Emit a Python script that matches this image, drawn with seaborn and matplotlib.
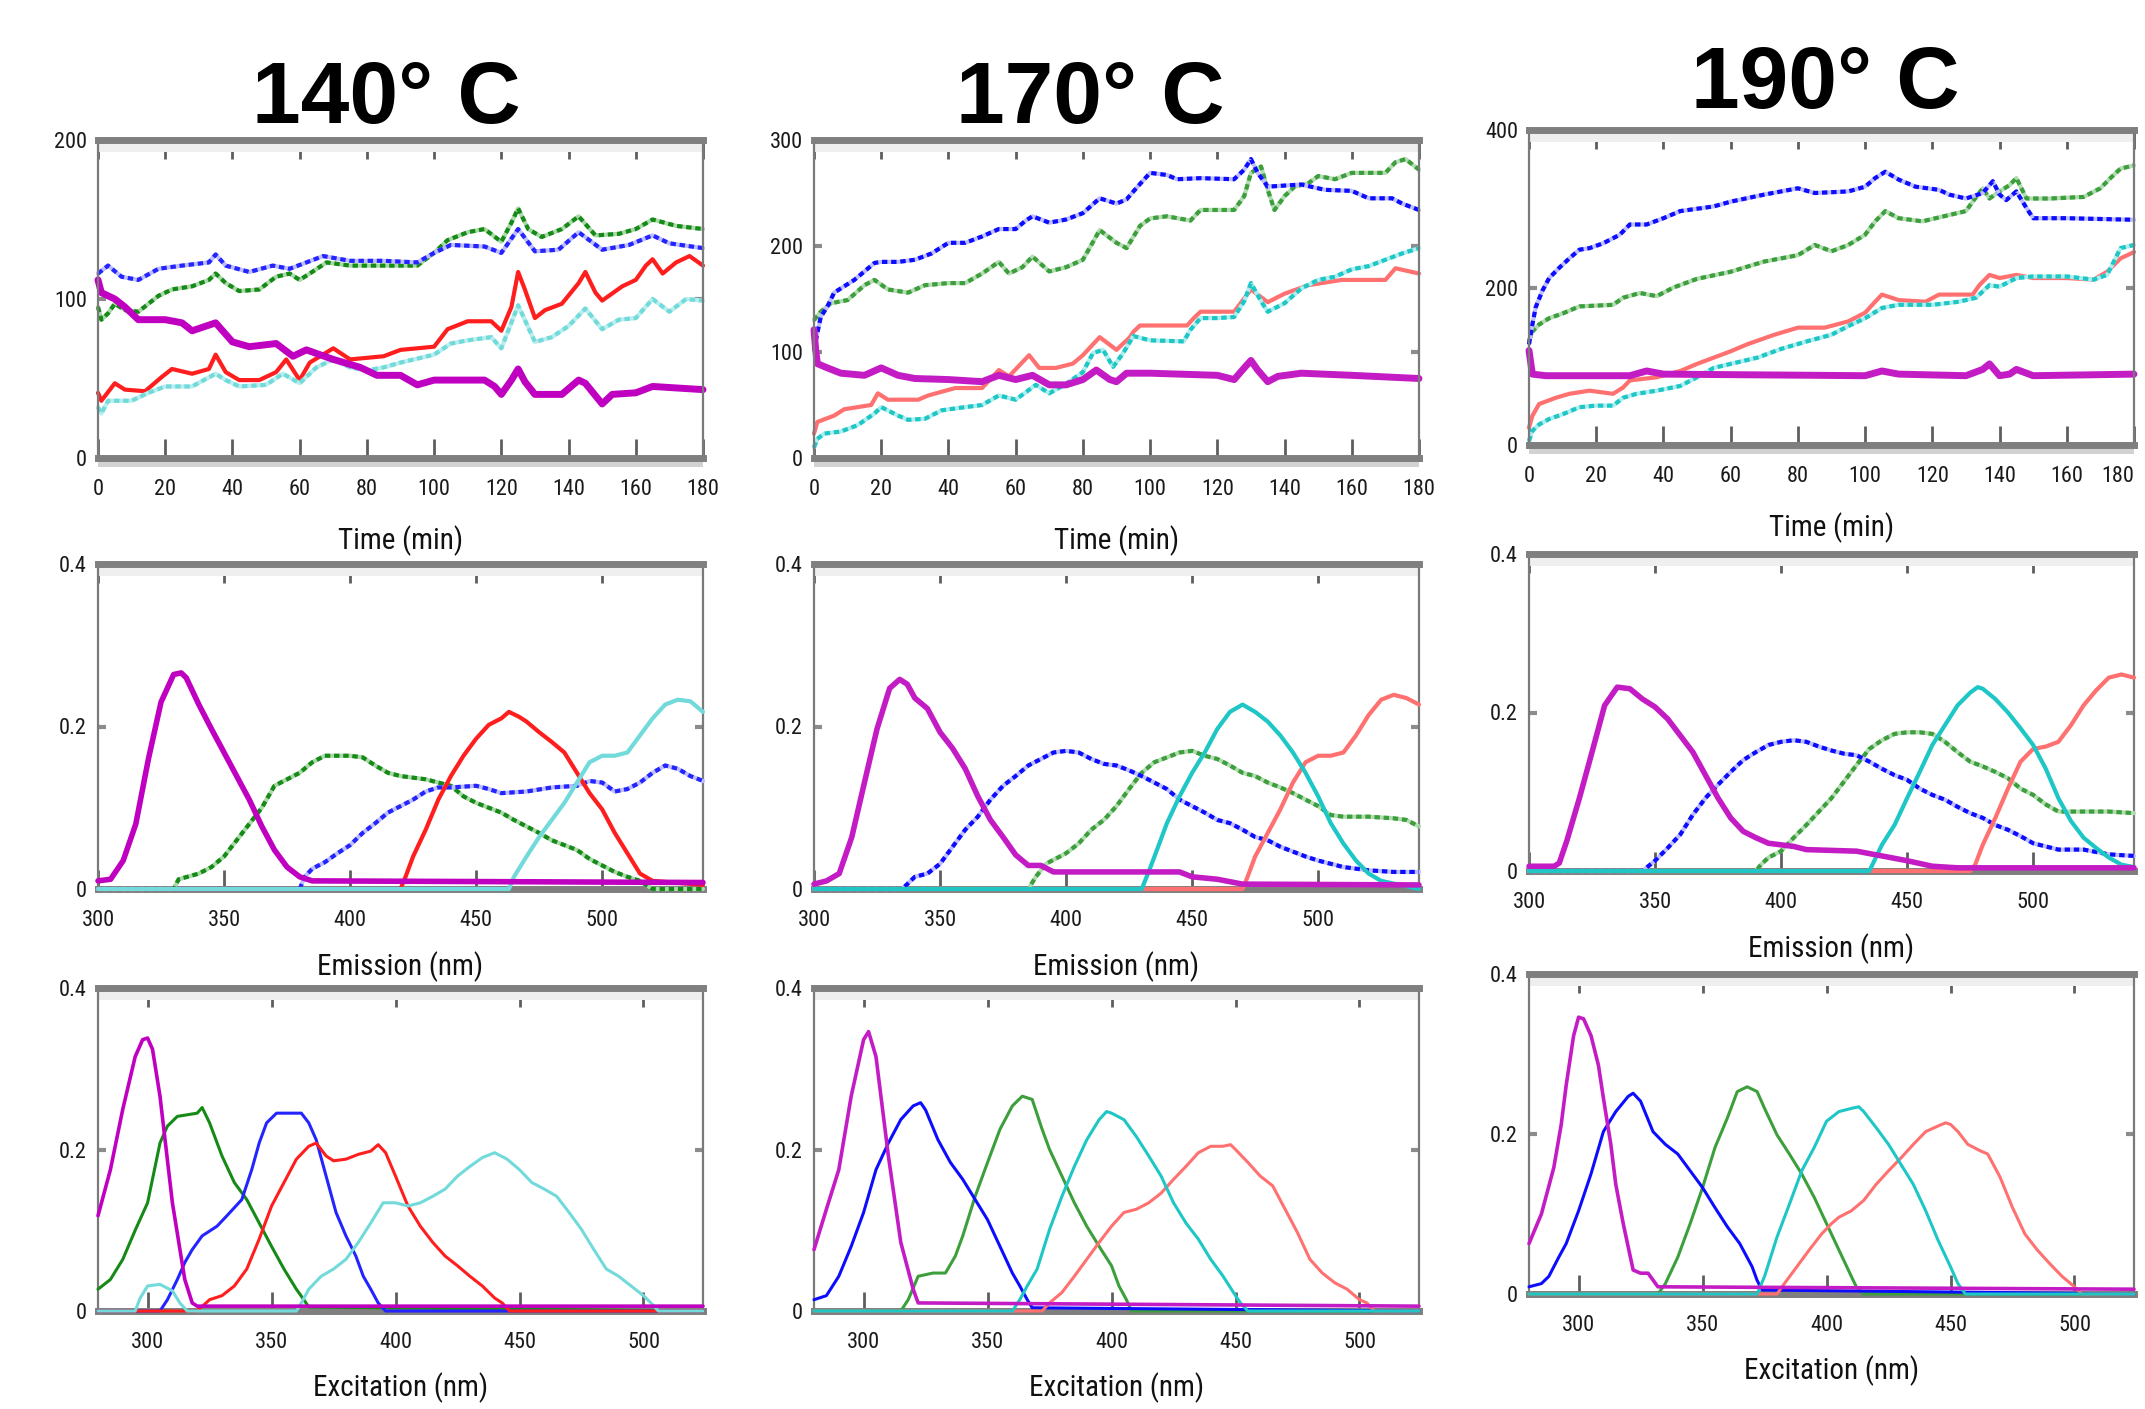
import matplotlib
matplotlib.use("Agg")
import matplotlib.pyplot as plt
import seaborn as sns
from matplotlib import font_manager as fm
from matplotlib.patches import Rectangle

# ---------------- time traces (top row) ----------------
t140_green = [0,1,3,5,8,12,18,22,28,33,35,38,42,48,53,57,60,63,68,75,85,95,100,104,110,115,120,123,125,128,132,138,143,148,155,160,165,172,180]
y140_green = [95,87,91,97,93,92,102,106,108,112,116,110,105,106,114,116,112,116,123,121,121,121,129,137,142,144,136,148,157,144,139,144,152,140,141,144,150,146,144]
t140_blue = [0,3,7,12,18,25,33,35,38,45,52,57,62,67,75,85,95,100,105,115,120,125,130,137,143,150,158,165,170,180]
y140_blue = [116,121,114,112,119,121,123,128,121,117,121,119,123,127,124,124,123,129,134,133,129,144,130,131,142,131,134,140,135,132]
t140_red = [0,1,5,8,14,19,22,28,33,35,38,42,48,53,56,60,63,70,75,85,90,95,100,104,110,117,120,123,125,127,130,133,138,143,145,148,150,156,160,163,165,168,172,176,180]
y140_red = [41,36,47,43,42,51,56,53,56,65,54,49,49,54,62,49,60,69,62,64,68,69,70,81,86,86,80,95,117,106,88,93,97,110,117,104,99,108,112,121,125,116,123,127,121]
t140_cyan = [0,1,3,10,15,20,28,35,38,42,50,55,60,65,70,75,80,85,90,100,105,110,117,120,125,130,135,140,145,150,155,160,165,170,175,180]
y140_cyan = [32,28,36,36,41,45,45,53,49,45,46,53,47,57,62,57,55,57,60,65,72,74,76,69,96,73,76,83,94,81,87,88,100,92,100,99]
t140_mag = [0,1,5,8,12,20,25,28,35,40,45,53,58,62,70,78,83,90,95,100,115,118,120,123,125,127,130,138,143,145,150,153,160,165,180]
y140_mag = [112,104,100,95,87,87,85,80,85,73,70,72,64,68,62,57,52,52,46,49,49,45,40,49,56,48,40,40,49,47,34,40,41,45,43]

t170_blue = [0,1,2,4,6,9,12,15,18,20,25,30,35,40,45,50,55,60,63,65,70,75,80,85,90,93,96,100,105,108,115,125,128,130,132,135,145,152,160,165,172,175,180]
y170_blue = [102,118,133,143,156,162,168,176,184,185,185,187,193,203,203,209,216,216,224,228,222,225,231,245,240,244,255,269,267,263,264,263,272,282,269,256,258,253,252,245,245,240,234]
t170_green = [0,2,5,10,15,18,22,28,33,40,45,50,55,58,62,65,70,75,80,85,90,93,97,100,105,112,115,125,128,130,133,135,137,140,143,147,150,155,160,170,173,176,180]
y170_green = [130,138,146,149,163,168,159,156,163,165,165,174,185,174,180,190,176,180,187,215,203,198,219,226,228,224,234,234,247,269,275,253,234,247,256,259,266,263,269,269,279,282,272]
t170_red = [0,1,6,9,17,19,22,31,34,42,50,55,58,64,67,72,77,80,85,90,94,95,97,111,113,115,125,130,135,140,147,157,170,173,180]
y170_red = [23,34,40,46,50,61,55,55,59,66,66,83,77,97,85,85,89,97,114,102,114,119,125,125,132,138,138,159,147,155,163,168,168,179,174]
t170_cyan = [0,1,3,8,13,18,20,25,28,33,38,45,50,55,60,63,66,70,75,80,83,86,89,92,95,100,110,112,115,120,125,128,130,133,135,140,145,150,155,160,165,170,175,180]
y170_cyan = [10,18,23,25,31,42,48,40,36,37,45,48,50,59,55,62,69,61,70,81,99,102,86,99,115,111,110,121,132,132,133,148,165,148,138,146,160,168,171,178,181,187,193,198]
t170_mag = [0,0.5,1,4,8,15,20,25,30,40,50,55,60,65,70,75,80,84,88,90,93,100,120,125,128,130,132,135,138,145,160,180]
y170_mag = [121,102,89,85,80,78,85,78,75,74,72,78,74,78,69,69,74,83,74,72,80,80,78,74,85,92,83,72,77,80,78,75]

t190_blue = [0,1,2,4,6,9,12,15,18,22,27,30,35,40,45,55,60,70,80,85,95,100,103,106,110,115,122,125,130,135,138,140,142,145,148,150,160,180]
y190_blue = [128,153,175,196,212,225,237,248,250,256,267,280,280,288,297,303,309,318,326,320,322,328,339,347,337,328,324,318,313,320,335,318,311,322,301,288,288,286]
t190_green = [0,1,3,6,10,15,25,28,33,38,43,50,60,70,80,85,90,95,100,103,106,110,117,125,130,132,135,137,140,143,145,148,155,165,170,173,176,180]
y190_green = [132,144,153,161,167,176,178,187,193,189,200,211,220,233,241,254,246,254,267,284,297,288,284,292,297,309,326,313,322,330,339,313,313,315,326,339,351,355]
t190_red = [0,1,3,8,12,18,25,28,30,38,45,50,55,60,65,73,80,88,95,100,103,105,110,118,122,132,134,137,140,145,150,160,168,172,176,180]
y190_red = [22,37,52,60,65,69,65,73,82,86,94,103,111,119,128,140,149,149,157,168,182,191,184,182,191,191,203,216,212,216,212,212,210,220,237,245]
t190_cyan = [0,1,3,6,10,15,20,25,28,32,38,45,50,55,60,68,75,83,90,95,100,105,110,120,128,133,137,140,145,150,160,168,172,176,180]
y190_cyan = [5,18,26,33,39,48,50,50,60,65,69,75,86,98,103,111,122,132,140,151,161,174,178,178,182,187,203,201,212,214,214,210,216,250,254]
t190_mag = [0,1,5,30,35,40,100,105,110,130,135,137,140,143,145,150,180]
y190_mag = [120,90,88,88,94,90,88,94,90,88,96,103,88,90,96,88,90]

# ---------------- emission loadings (middle row) ----------------
em140_mag_x = [300,305,310,315,320,325,330,333,335,340,345,350,355,360,365,370,375,380,385,540]
em140_mag_y = [0.01,0.012,0.035,0.08,0.16,0.23,0.264,0.266,0.26,0.227,0.197,0.168,0.139,0.11,0.077,0.048,0.027,0.015,0.01,0.008]
em140_green_x = [300,330,332,340,345] + list(range(350, 525, 5)) + [540]
em140_green_y = [0,0,0.012,0.019,0.027,0.04,0.06,0.08,0.10,0.127,0.135,0.143,0.156,0.164,0.164,0.164,0.162,0.152,0.143,0.139,0.137,0.135,0.131,0.127,0.114,0.106,0.10,0.094,0.085,0.077,0.069,0.06,0.054,0.048,0.037,0.029,0.021,0.015,0.01,0,0]
em140_blue_x = [300,380,382] + list(range(385, 445, 5)) + [450,455,460,470,480,490,495,500,505,510,515,520,525,530,535,540]
em140_blue_y = [0,0,0.015,0.025,0.033,0.044,0.054,0.069,0.081,0.094,0.102,0.11,0.12,0.125,0.125,0.127,0.123,0.118,0.12,0.125,0.127,0.133,0.131,0.12,0.123,0.131,0.143,0.152,0.148,0.139,0.133]
em140_red_x = [300,420,422,425,430,435,440,445,450,455,460,463,467,470,475,480,485,490,495,500,505,510,515,520,540]
em140_red_y = [0,0,0.015,0.04,0.073,0.11,0.139,0.164,0.185,0.202,0.21,0.218,0.212,0.206,0.193,0.181,0.168,0.143,0.118,0.098,0.069,0.044,0.019,0.01,0.005]
em140_cyan_x = [300,463] + list(range(465, 545, 5))
em140_cyan_y = [0,0,0.015,0.04,0.064,0.085,0.106,0.131,0.156,0.164,0.164,0.168,0.189,0.21,0.227,0.233,0.231,0.218]

em170_mag_x = [300,305,310,315,320,325,330,334,337,340,345,350,355,360,365,370,375,380,385,390,395,445,450,460,470,540]
em170_mag_y = [0.006,0.01,0.019,0.064,0.131,0.197,0.247,0.258,0.252,0.235,0.222,0.193,0.173,0.148,0.114,0.085,0.064,0.042,0.029,0.029,0.021,0.021,0.015,0.012,0.006,0.005]
em170_blue_x = [300,335] + list(range(340, 515, 5)) + [520,530,540]
em170_blue_y = [0,0,0.015,0.019,0.031,0.052,0.073,0.089,0.11,0.127,0.139,0.152,0.16,0.168,0.17,0.168,0.16,0.154,0.152,0.146,0.139,0.131,0.123,0.11,0.102,0.094,0.085,0.081,0.073,0.064,0.06,0.052,0.046,0.04,0.035,0.031,0.027,0.023,0.021,0.021]
em170_green_x = [300,385,388,392] + list(range(400, 515, 5)) + [520,530,535,540]
em170_green_y = [0,0,0.015,0.031,0.044,0.056,0.073,0.085,0.102,0.123,0.143,0.156,0.162,0.168,0.17,0.164,0.16,0.152,0.143,0.139,0.131,0.125,0.118,0.11,0.102,0.091,0.089,0.089,0.087,0.085,0.077]
em170_cyan_x = [300,430,433,437] + list(range(440, 530, 5)) + [540]
em170_cyan_y = [0,0,0.023,0.056,0.081,0.114,0.143,0.168,0.197,0.218,0.227,0.218,0.206,0.189,0.168,0.143,0.114,0.081,0.056,0.035,0.019,0.01,0]
em170_red_x = [300,470,472] + list(range(475, 545, 5))
em170_red_y = [0,0,0.015,0.04,0.069,0.098,0.131,0.156,0.164,0.164,0.168,0.189,0.214,0.233,0.239,0.235,0.227]

em190_mag_x = [300,310,312] + list(range(315, 415, 5)) + [420,430,440,450,460,470,540]
em190_mag_y = [0.006,0.006,0.01,0.038,0.092,0.15,0.209,0.232,0.23,0.217,0.207,0.192,0.171,0.15,0.121,0.092,0.067,0.05,0.042,0.035,0.033,0.031,0.027,0.026,0.025,0.019,0.013,0.006,0.004,0.004]
em190_blue_x = [300,345] + list(range(350, 515, 5)) + [520,530,540]
em190_blue_y = [0,0,0.013,0.029,0.046,0.071,0.092,0.109,0.125,0.14,0.15,0.159,0.163,0.165,0.163,0.157,0.152,0.148,0.146,0.138,0.129,0.121,0.115,0.104,0.096,0.09,0.081,0.073,0.067,0.058,0.052,0.044,0.035,0.031,0.027,0.027,0.021,0.019]
em190_green_x = [300,390,392,395] + list(range(400, 515, 5)) + [520,530,540]
em190_green_y = [0,0,0.008,0.017,0.025,0.042,0.058,0.075,0.092,0.113,0.134,0.154,0.165,0.173,0.175,0.175,0.173,0.163,0.15,0.138,0.132,0.125,0.117,0.104,0.096,0.084,0.075,0.075,0.075,0.073]
em190_cyan_x = [300,435,437,440,445,450,455,460,465,470,475,478,480,485,490,495,500,505,510,515,520,525,530,535,540]
em190_cyan_y = [0,0,0.013,0.033,0.058,0.092,0.125,0.159,0.184,0.209,0.225,0.232,0.23,0.217,0.2,0.18,0.159,0.129,0.092,0.063,0.042,0.029,0.017,0.008,0.005]
em190_red_x = [300,475,477] + list(range(480, 545, 5))
em190_red_y = [0,0,0.008,0.033,0.067,0.104,0.138,0.154,0.157,0.163,0.184,0.209,0.228,0.244,0.248,0.244]

# ---------------- excitation loadings (bottom row) ----------------
ex140_mag_x = [280,285,290,295,298,300,302,305,310,315,318,320,524]
ex140_mag_y = [0.118,0.175,0.25,0.315,0.336,0.338,0.324,0.266,0.134,0.039,0.01,0.006,0.006]
ex140_green_x = [280,285,290,295,300,305,308,312,316,320,322,325,330,335,340,345,350,355,360,363,365,524]
ex140_green_y = [0.027,0.039,0.064,0.10,0.134,0.208,0.229,0.241,0.243,0.245,0.252,0.233,0.192,0.159,0.138,0.109,0.08,0.052,0.027,0.014,0.005,0]
ex140_blue_x = [280,305,308,312,315,318,322,328,332,338,342,345,348,352,358,362,365,368,372,376,380,384,387,390,393,396,524]
ex140_blue_y = [0,0,0.014,0.039,0.06,0.076,0.093,0.105,0.118,0.138,0.175,0.208,0.233,0.245,0.245,0.245,0.233,0.212,0.167,0.122,0.093,0.068,0.043,0.027,0.01,0,0]
ex140_red_x = [280,320,325,330,335,340,345,350,355,360,365,368,372,375,380,385,390,393,396,400,405,410,415,420,425,430,435,440,443,446,524]
ex140_red_y = [0,0,0.014,0.019,0.031,0.052,0.089,0.13,0.159,0.188,0.204,0.208,0.192,0.186,0.188,0.194,0.198,0.206,0.196,0.167,0.13,0.105,0.085,0.068,0.056,0.043,0.031,0.016,0.01,0,0]
ex140_cyan_x = [280,295,297,300,305,310,313,316,360,362] + list(range(365, 505, 5)) + [503,506,524]
ex140_cyan_y = [0,0,0.016,0.031,0.033,0.025,0.01,0,0,0.01,0.027,0.043,0.052,0.064,0.085,0.109,0.134,0.134,0.13,0.134,0.142,0.151,0.167,0.179,0.19,0.196,0.188,0.175,0.159,0.151,0.142,0.122,0.101,0.076,0.052,0.043,0.031,0.019,0.01,0,0]

ex170_mag_x = [280,285,290,295,300,302,305,310,315,320,322,524]
ex170_mag_y = [0.076,0.126,0.175,0.266,0.336,0.346,0.315,0.192,0.085,0.027,0.01,0.006]
ex170_blue_x = [280,285,290,295,300,305,310,315,320,323,325,330,335,340,345,350,355,360,363,366,368,524]
ex170_blue_y = [0.014,0.019,0.043,0.08,0.122,0.175,0.208,0.237,0.254,0.258,0.249,0.212,0.184,0.163,0.138,0.113,0.08,0.047,0.031,0.014,0.004,0]
ex170_green_x = [280,315,318,322,328,333,337,340,345,350,355,360,364,368,372,375,380,385,390,395,400,403,406,408,524]
ex170_green_y = [0,0,0.014,0.043,0.047,0.047,0.068,0.093,0.142,0.184,0.225,0.254,0.266,0.262,0.225,0.2,0.167,0.134,0.105,0.08,0.056,0.031,0.014,0,0]
ex170_cyan_x = [280,360,363,366,370,375,380,385,390,395,398,400,405,410,415,420,425,430,435,440,445,450,452,455,524]
ex170_cyan_y = [0,0,0.014,0.031,0.052,0.101,0.142,0.179,0.212,0.237,0.247,0.245,0.237,0.216,0.192,0.167,0.134,0.109,0.089,0.064,0.043,0.019,0.01,0,0]
ex170_red_x = [280,372,375] + list(range(380, 450, 5)) + [448] + list(range(450, 505, 5)) + [503,506,524]
ex170_red_y = [0,0,0.01,0.023,0.043,0.064,0.085,0.105,0.122,0.126,0.134,0.146,0.163,0.179,0.196,0.204,0.204,0.206,0.2,0.184,0.167,0.155,0.126,0.097,0.064,0.047,0.035,0.027,0.014,0.01,0,0]

ex190_mag_x = [280,285,290,293,295,298,300,302,305,308,310,313,315,318,320,322,325,328,332,524]
ex190_mag_y = [0.063,0.1,0.158,0.212,0.261,0.323,0.346,0.344,0.323,0.286,0.245,0.187,0.137,0.088,0.059,0.03,0.026,0.026,0.009,0.006]
ex190_blue_x = [280,285,288,292,295,300,305,310,315,320,322,325,330,335,340,345,350,355,360,365,370,372,374,524]
ex190_blue_y = [0.009,0.013,0.022,0.046,0.063,0.104,0.15,0.203,0.228,0.247,0.251,0.241,0.203,0.187,0.175,0.154,0.133,0.108,0.084,0.063,0.034,0.017,0.005,0]
ex190_green_x = [280,332,335,340,345,350,355,360,364,368,372,375,380,385,390,395,400,405,410,412,415,524]
ex190_green_y = [0,0,0.013,0.046,0.088,0.133,0.183,0.22,0.253,0.259,0.253,0.232,0.199,0.175,0.15,0.121,0.088,0.055,0.022,0.009,0,0]
ex190_cyan_x = [280,372,375,380,385,390,395,400,405,410,413,415,420,425,430,435,440,445,450,453,456,524]
ex190_cyan_y = [0,0,0.022,0.071,0.112,0.154,0.183,0.216,0.228,0.232,0.234,0.228,0.208,0.187,0.162,0.137,0.104,0.067,0.034,0.013,0,0]
ex190_red_x = [280,380,383,388,393,398,402,405,410,415,420,425,430,435,440,445,448,450,453,457,462,465,470,475,480,485,490,495,500,503,524]
ex190_red_y = [0,0,0.013,0.034,0.055,0.075,0.088,0.096,0.104,0.117,0.137,0.154,0.17,0.187,0.203,0.21,0.214,0.212,0.203,0.187,0.179,0.175,0.146,0.108,0.075,0.055,0.038,0.022,0.009,0,0]

titles = ["140\u00b0 C", "170\u00b0 C", "190\u00b0 C"]
time_ylims = [200, 300, 400]
time_yticks = [[0, 100, 200], [0, 100, 200, 300], [0, 200, 400]]

# colours: (dark, light underlay)
pal140 = {"green": ("#168a16", "#a9d8a9"), "blue": ("#2424ff", "#bdbdff"),
          "red": ("#ff1e1e", "#ffb4b4"), "cyan": ("#72dada", "#b8eeee"), "mag": ("#c000c0", None)}
pal_hot = {"green": ("#3c9f3c", "#b3dcb3"), "blue": ("#0c0cff", "#bfbfff"),
           "red": ("#ff7070", "#ffbcbc"), "cyan": ("#1ec6c6", "#aeeeee"), "mag": ("#c41cc4", None)}

sns.set_theme(style="white")

# the axis texts in the figure are set in a narrow face; use the narrowest installed one
_fonts = fm.fontManager.ttflist
_names = {f.name for f in _fonts}
_dejavu_cond = [f for f in _fonts if f.name.startswith("DejaVu Sans") and "condensed" in str(f.stretch)]
if "Liberation Sans Narrow" in _names:
    plt.rcParams["font.family"] = ["Liberation Sans Narrow", "DejaVu Sans"]
    tick_fs, lab_fs = 17, 22
elif "Roboto Condensed" in _names:
    plt.rcParams["font.family"] = ["Roboto Condensed", "DejaVu Sans"]
    tick_fs, lab_fs = 16, 21
elif _dejavu_cond:
    plt.rcParams["font.family"] = ["DejaVu Sans", "Liberation Sans"]
    plt.rcParams["font.stretch"] = "condensed"
    tick_fs, lab_fs = 15, 19
else:
    plt.rcParams["font.family"] = ["Liberation Sans", "DejaVu Sans"]
    tick_fs, lab_fs = 15, 19

fig = plt.figure(figsize=(21.45, 14.09), dpi=100)
W, H = 2145.0, 1409.0
col_left = [98, 814, 1529]
col_w = 605
rows_px = [[(140, 458), (564, 889), (988, 1311)],
           [(140, 458), (564, 889), (988, 1311)],
           [(130, 445), (554, 871), (974, 1294)]]
title_x = [386, 1090, 1825]
title_base = [123, 123, 108]


def make_ax(c, r):
    top, bot = rows_px[c][r]
    return fig.add_axes([col_left[c] / W, 1 - bot / H, col_w / W, (bot - top) / H])


def trace(ax, x, y, colors, lw, dashed=False, z=2):
    dark, light = colors
    if dashed and light:
        sns.lineplot(x=x, y=y, ax=ax, color=light, linewidth=lw, sort=False,
                     estimator=None, zorder=z, clip_on=False)
    sns.lineplot(x=x, y=y, ax=ax, color=dark, linewidth=lw, sort=False,
                 estimator=None, zorder=z, clip_on=False)
    if dashed:
        ax.lines[-1].set_dashes([1.3, 0.9])


def frame(ax, xlim, xticks, ylim, yticks, ylabels, xlabel, time_panel, labelpad):
    ax.set_xlim(xlim)
    ax.set_ylim(ylim)
    ax.set_xticks(xticks)
    ax.set_xticklabels([str(v) for v in xticks])
    ax.set_yticks(yticks)
    ax.set_yticklabels(ylabels)
    for s in ("left", "right"):
        ax.spines[s].set_color("#7a7a7a")
        ax.spines[s].set_linewidth(1.6)
    for s in ("top", "bottom"):
        ax.spines[s].set_color("#7f7f7f")
        ax.spines[s].set_linewidth(5)
    ax.add_patch(Rectangle((0, 0.962), 1, 0.03, transform=ax.transAxes,
                           facecolor="#efefef", edgecolor="none", zorder=1))
    if time_panel:
        ax.add_patch(Rectangle((0, -0.028), 1, 0.02, transform=ax.transAxes,
                               facecolor="#d2d2d2", edgecolor="none", zorder=1, clip_on=False))
    ax.tick_params(axis="x", direction="in", length=14, width=2, color="#5e5e5e",
                   top=True, bottom=True, pad=15, labelsize=tick_fs, labelcolor="#1a1a1a")
    ax.tick_params(axis="y", direction="in", length=6, width=3, color="#8c8c8c",
                   left=True, right=True, pad=8, labelsize=tick_fs, labelcolor="#1a1a1a")
    ax.set_xlabel(xlabel, fontsize=lab_fs, labelpad=labelpad, color="#111111")
    ax.set_ylabel("")
    ax.grid(False)


time_data = [
    [(t140_green, y140_green, "green"), (t140_blue, y140_blue, "blue"), (t140_red, y140_red, "red"),
     (t140_cyan, y140_cyan, "cyan"), (t140_mag, y140_mag, "mag")],
    [(t170_green, y170_green, "green"), (t170_blue, y170_blue, "blue"), (t170_red, y170_red, "red"),
     (t170_cyan, y170_cyan, "cyan"), (t170_mag, y170_mag, "mag")],
    [(t190_green, y190_green, "green"), (t190_blue, y190_blue, "blue"), (t190_red, y190_red, "red"),
     (t190_cyan, y190_cyan, "cyan"), (t190_mag, y190_mag, "mag")],
]
em_data = [
    [(em140_green_x, em140_green_y, "green"), (em140_blue_x, em140_blue_y, "blue"),
     (em140_red_x, em140_red_y, "red"), (em140_cyan_x, em140_cyan_y, "cyan"), (em140_mag_x, em140_mag_y, "mag")],
    [(em170_green_x, em170_green_y, "green"), (em170_blue_x, em170_blue_y, "blue"),
     (em170_red_x, em170_red_y, "red"), (em170_cyan_x, em170_cyan_y, "cyan"), (em170_mag_x, em170_mag_y, "mag")],
    [(em190_green_x, em190_green_y, "green"), (em190_blue_x, em190_blue_y, "blue"),
     (em190_red_x, em190_red_y, "red"), (em190_cyan_x, em190_cyan_y, "cyan"), (em190_mag_x, em190_mag_y, "mag")],
]
ex_data = [
    [(ex140_green_x, ex140_green_y, "green"), (ex140_blue_x, ex140_blue_y, "blue"),
     (ex140_red_x, ex140_red_y, "red"), (ex140_cyan_x, ex140_cyan_y, "cyan"), (ex140_mag_x, ex140_mag_y, "mag")],
    [(ex170_green_x, ex170_green_y, "green"), (ex170_blue_x, ex170_blue_y, "blue"),
     (ex170_red_x, ex170_red_y, "red"), (ex170_cyan_x, ex170_cyan_y, "cyan"), (ex170_mag_x, ex170_mag_y, "mag")],
    [(ex190_green_x, ex190_green_y, "green"), (ex190_blue_x, ex190_blue_y, "blue"),
     (ex190_red_x, ex190_red_y, "red"), (ex190_cyan_x, ex190_cyan_y, "cyan"), (ex190_mag_x, ex190_mag_y, "mag")],
]

for c in range(3):
    pal = pal140 if c == 0 else pal_hot

    # time scores
    ax = make_ax(c, 0)
    for x, y, name in time_data[c]:
        if name == "mag":
            trace(ax, x, y, pal[name], 5.0)
        else:
            trace(ax, x, y, pal[name], 3.0, dashed=name in ("green", "blue", "cyan"))
    frame(ax, (0, 180), list(range(0, 181, 20)), (0, time_ylims[c]), time_yticks[c],
          [str(v) for v in time_yticks[c]], "Time (min)", True, 18)
    if c == 2:
        # last label would run past the right edge of the figure
        ax.get_xticklabels()[-1].set_horizontalalignment("right")

    # emission
    ax = make_ax(c, 1)
    for x, y, name in em_data[c]:
        if name == "mag":
            trace(ax, x, y, pal[name], 4.0, z=3)
        else:
            trace(ax, x, y, pal[name], 3.0, dashed=name in ("green", "blue"), z=3)
    frame(ax, (300, 540), [300, 350, 400, 450, 500], (0, 0.4), [0, 0.2, 0.4],
          ["0", "0.2", "0.4"], "Emission (nm)", False, 15)

    # excitation
    ax = make_ax(c, 2)
    for x, y, name in ex_data[c]:
        trace(ax, x, y, pal[name], 2.6 if name == "mag" else 2.2, z=3)
    frame(ax, (280, 524), [300, 350, 400, 450, 500], (0, 0.4), [0, 0.2, 0.4],
          ["0", "0.2", "0.4"], "Excitation (nm)", False, 14)

    fig.text(title_x[c] / W, 1 - title_base[c] / H, titles[c], ha="center", va="baseline",
             fontsize=63, fontweight="bold", fontstretch="normal",
             family=["Liberation Sans", "DejaVu Sans"], color="black")

fig.savefig("out.png", dpi=100)
